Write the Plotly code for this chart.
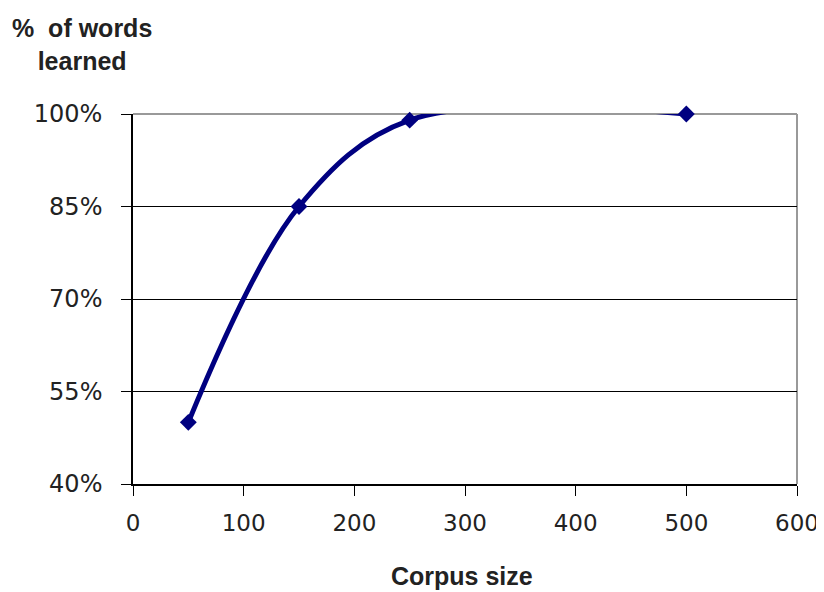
import plotly.graph_objects as go

corpus_size = [50, 150, 250, 500]
pct_learned = [0.50, 0.85, 0.99, 1.00]
x_ticks = [0, 100, 200, 300, 400, 500, 600]
y_ticks = [0.40, 0.55, 0.70, 0.85, 1.00]

navy = "#000080"
ytick_font = dict(family="DejaVu Sans, Verdana, sans-serif", size=24, color="#222")
xtick_font = dict(family="DejaVu Sans, Verdana, sans-serif", size=23, color="#222")
title_font = dict(family="Liberation Sans, Arial, sans-serif", size=25, color="#222")

fig = go.Figure()
fig.add_trace(go.Scatter(
    x=corpus_size, y=pct_learned, mode="lines+markers",
    line=dict(color=navy, width=5, shape="spline", smoothing=1.0),
    marker=dict(symbol="diamond", size=13, color=navy),
    cliponaxis=False, showlegend=False,
))

fig.update_layout(
    width=816, height=584,
    margin=dict(l=125, r=27, t=106, b=108),
    paper_bgcolor="white", plot_bgcolor="white",
    font=dict(family="Liberation Sans, Arial, sans-serif", size=24, color="#222"),
    xaxis=dict(range=[0, 600], tickvals=x_ticks, ticks="outside", ticklen=10,
               tickcolor="black", showline=True, linecolor="black", linewidth=1.5,
               showgrid=False, zeroline=False, tickfont=xtick_font, ticklabelstandoff=8,
               automargin=False),
    yaxis=dict(range=[0.40, 1.00], tickvals=y_ticks, tickformat=".0%", ticks="outside",
               ticklen=10, tickcolor="black", showline=True, linecolor="black", linewidth=1.5,
               showgrid=True, gridcolor="black", gridwidth=1, zeroline=False,
               tickfont=ytick_font, ticklabelstandoff=14, automargin=False),
    shapes=[
        dict(type="line", xref="paper", yref="paper", x0=0, x1=1, y0=1, y1=1,
             line=dict(color="#999999", width=2), layer="below"),
        dict(type="line", xref="paper", yref="paper", x0=1, x1=1, y0=0, y1=1,
             line=dict(color="#999999", width=2), layer="below"),
    ],
    annotations=[
        dict(text="<b>%  of words<br>learned</b>", xref="paper", yref="paper",
             x=-0.077, y=1.0, xanchor="center", yanchor="bottom", yshift=37,
             showarrow=False, align="center", font=title_font),
        dict(text="<b>Corpus size</b>", xref="paper", yref="paper",
             x=0.495, y=0, xanchor="center", yanchor="top", yshift=-76,
             showarrow=False, font=title_font),
    ],
)

fig.write_html("out.html")
